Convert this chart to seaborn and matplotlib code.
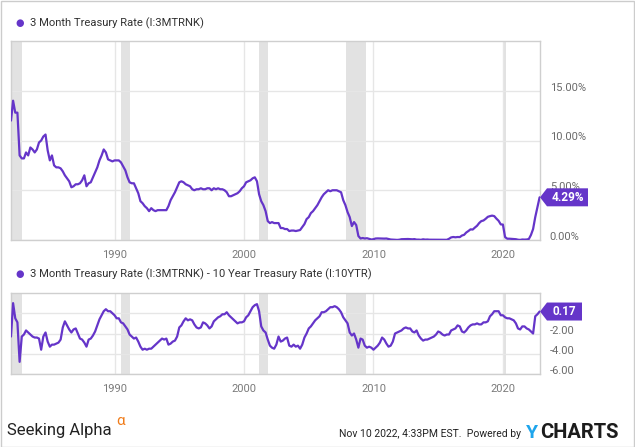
"""3 Month Treasury Rate and 3M - 10Y spread, YCharts style."""

import matplotlib
matplotlib.use("Agg")
import matplotlib.pyplot as plt
import matplotlib.transforms as mtransforms
from matplotlib.patches import Polygon, Rectangle
import pandas as pd
import seaborn as sns

W, H = 635, 447
PURPLE = "#6535c9"
GRID = "#e6e6e6"
BAND = "#e2e2e2"

# bimonthly readings, Jan 1982 .. Nov 2022
rate_3m = [
    12.0, 14.0, 12.8, 12.8, 8.5, 8.2,
    8.2, 8.8, 8.5, 9.3, 9.1, 8.8,
    9.1, 9.8, 10.0, 10.4, 10.6, 9.0,
    8.0, 8.5, 7.5, 7.3, 7.3, 7.2,
    6.9, 6.5, 6.2, 5.9, 5.3, 5.4,
    5.6, 5.6, 5.7, 6.0, 6.5, 5.4,
    5.7, 5.8, 6.3, 6.8, 7.3, 8.0,
    8.5, 9.1, 8.8, 8.1, 8.0, 7.9,
    8.0, 8.0, 8.0, 7.8, 7.4, 7.0,
    6.3, 5.8, 5.7, 5.7, 5.2, 4.7,
    3.9, 3.7, 3.4, 3.2, 2.9, 3.2,
    3.0, 2.9, 3.0, 3.0, 3.0, 3.0,
    3.0, 3.4, 4.0, 4.4, 4.8, 5.3,
    5.8, 5.9, 5.8, 5.6, 5.5, 5.4,
    5.1, 5.0, 5.1, 5.1, 5.2, 5.1,
    5.1, 5.2, 5.2, 5.0, 5.2, 5.1,
    5.2, 5.1, 5.1, 5.0, 4.8, 4.4,
    4.4, 4.5, 4.6, 4.7, 4.9, 5.2,
    5.4, 5.8, 5.9, 6.0, 6.2, 6.3,
    5.9, 4.6, 3.9, 3.5, 2.9, 1.9,
    1.7, 1.8, 1.7, 1.7, 1.7, 1.2,
    1.2, 1.1, 1.1, 0.9, 0.95, 0.95,
    0.9, 0.95, 1.0, 1.3, 1.6, 2.1,
    2.3, 2.7, 2.9, 3.2, 3.5, 3.9,
    4.3, 4.6, 4.8, 5.0, 4.9, 5.0,
    5.0, 5.0, 4.9, 4.8, 4.0, 3.5,
    2.8, 2.3, 1.4, 1.8, 1.5, 0.4,
    0.15, 0.2, 0.15, 0.18, 0.12, 0.05,
    0.08, 0.15, 0.16, 0.15, 0.15, 0.14,
    0.15, 0.1, 0.05, 0.04, 0.02, 0.01,
    0.03, 0.08, 0.09, 0.1, 0.1, 0.09,
    0.07, 0.09, 0.04, 0.04, 0.02, 0.07,
    0.04, 0.05, 0.03, 0.03, 0.02, 0.02,
    0.03, 0.03, 0.02, 0.03, 0.02, 0.12,
    0.26, 0.3, 0.27, 0.3, 0.29, 0.45,
    0.52, 0.75, 0.9, 1.07, 1.05, 1.25,
    1.43, 1.7, 1.9, 1.96, 2.13, 2.33,
    2.4, 2.45, 2.4, 2.15, 1.93, 1.57,
    1.55, 0.3, 0.13, 0.13, 0.11, 0.09,
    0.08, 0.03, 0.01, 0.05, 0.04, 0.05,
    0.1, 0.5, 1.1, 2.3, 3.3, 4.29,
]

spread_3m_10y = [
    -2.3, 1.0, -0.5, -0.9, -4.8, -2.3,
    -2.1, -1.7, -1.9, -2.1, -2.3, -2.4,
    -2.4, -2.5, -3.6, -2.3, -1.9, -2.8,
    -3.3, -3.1, -3.1, -3.0, -2.9, -2.6,
    -1.4, -0.8, -1.2, -1.6, -1.9, -1.6,
    -1.5, -2.0, -2.5, -2.6, -2.9, -3.3,
    -2.6, -2.5, -2.2, -1.8, -1.2, -0.6,
    -0.2, 0.2, 0.4, 0.2, 0.2, 0.0,
    -0.2, -0.5, -0.5, -0.9, -1.0, -1.3,
    -1.6, -2.1, -2.3, -2.5, -2.4, -2.8,
    -3.3, -3.6, -3.5, -3.6, -3.5, -3.5,
    -3.3, -3.1, -2.9, -2.7, -2.5, -2.6,
    -2.5, -3.1, -3.0, -2.8, -2.7, -2.3,
    -1.4, -1.2, -0.8, -0.5, -0.7, -0.6,
    -0.7, -1.1, -1.4, -1.5, -1.4, -0.9,
    -1.0, -1.2, -1.5, -1.3, -0.8, -0.6,
    -0.4, -0.3, -0.1, -0.1, 0.1, -0.2,
    -0.4, -0.6, -0.8, -1.0, -0.9, -0.9,
    -0.8, -0.4, -0.2, 0.2, 0.6, 0.8,
    0.9, 0.2, -1.3, -1.7, -1.9, -2.6,
    -3.2, -3.4, -3.5, -3.1, -2.3, -2.8,
    -2.7, -2.5, -2.4, -3.2, -3.3, -3.1,
    -3.3, -3.2, -3.5, -3.1, -2.4, -2.0,
    -1.5, -1.3, -1.0, -0.7, -0.5, -0.3,
    0.1, 0.1, 0.2, 0.4, 0.6, 0.6,
    0.7, 0.6, 0.4, 0.1, -0.4, -0.7,
    -1.0, -1.9, -2.2, -2.0, -2.6, -3.4,
    -2.5, -2.6, -3.2, -3.4, -3.3, -3.4,
    -3.6, -3.4, -3.2, -2.9, -2.4, -2.6,
    -3.0, -3.3, -3.2, -2.8, -2.0, -1.9,
    -1.8, -1.7, -1.5, -1.4, -1.5, -1.5,
    -1.8, -1.9, -1.7, -2.2, -2.5, -2.7,
    -2.6, -2.6, -2.5, -2.4, -2.3, -2.1,
    -1.8, -1.9, -2.1, -2.2, -2.1, -2.1,
    -1.7, -1.6, -1.5, -1.2, -1.3, -1.8,
    -1.9, -1.7, -1.4, -1.2, -1.1, -1.1,
    -1.0, -1.1, -1.1, -0.9, -0.9, -0.8,
    -0.3, -0.1, 0.2, 0.2, 0.2, -0.2,
    -0.2, -0.4, -0.5, -0.5, -0.6, -0.7,
    -1.0, -1.5, -1.6, -1.3, -1.3, -1.5,
    -1.6, -1.8, -2.0, -0.3, -0.1, 0.17,
]

recessions = [
    ("1981-07-01", "1982-11-01"),
    ("1990-07-01", "1991-03-01"),
    ("2001-03-01", "2001-11-01"),
    ("2007-12-01", "2009-06-01"),
    ("2020-02-01", "2020-04-01"),
]
decade_years = ["1990", "2000", "2010", "2020"]

top_title = "3 Month Treasury Rate (I:3MTRNK)"
bottom_title = "3 Month Treasury Rate (I:3MTRNK) - 10 Year Treasury Rate (I:10YTR)"

df = pd.DataFrame({
    "date": pd.date_range("1982-01-01", periods=len(rate_3m), freq="2MS"),
    "rate": rate_3m,
    "spread": spread_3m_10y,
})

sns.set_style("white")
plt.rcParams["font.family"] = ["Roboto", "DejaVu Sans"]

fig = plt.figure(figsize=(W / 100, H / 100), dpi=100)


def frac(x0, y0, x1, y1):
    return [x0 / W, 1 - y1 / H, (x1 - x0) / W, (y1 - y0) / H]


ax1 = fig.add_axes(frac(11, 41, 540, 240))
ax2 = fig.add_axes(frac(11, 293, 540, 374))

xmin, xmax = pd.Timestamp("1982-01-01"), pd.Timestamp("2022-11-12")


def style_axis(ax, ticks, labels, ylim):
    for a, b in recessions:
        ax.axvspan(pd.Timestamp(a), pd.Timestamp(b), color=BAND, lw=0, zorder=0)
    for yr in decade_years:
        ax.axvline(pd.Timestamp(f"{yr}-01-01"), color=GRID, lw=1, zorder=0.5)
    for t in ticks:
        ax.axhline(t, color=GRID, lw=1, zorder=0.5)
    ax.set_xlim(xmin, xmax)
    ax.set_ylim(*ylim)
    ax.set_xticks([pd.Timestamp(f"{yr}-01-01") for yr in decade_years], decade_years)
    ax.yaxis.tick_right()
    ax.set_yticks(ticks, labels)
    ax.tick_params(axis="x", length=0, pad=7, labelsize=8, labelcolor="#7a7a7a")
    ax.tick_params(axis="y", length=0, pad=7, labelsize=8, labelcolor="#6a6a6a")
    for lbl in ax.get_yticklabels():
        lbl.set_verticalalignment("baseline")
    for s in ax.spines.values():
        s.set_color("#cfcfcf")
        s.set_linewidth(1)
    ax.set_xlabel("")
    ax.set_ylabel("")


def badge(ax, value, text, width):
    trans = mtransforms.Affine2D() + mtransforms.ScaledTranslation(
        1.0, value, mtransforms.blended_transform_factory(ax.transAxes, ax.transData))
    pts = [(0, 0), (7, 9), (7 + width, 9), (7 + width, -9), (7, -9)]
    ax.add_patch(Polygon(pts, closed=True, fc=PURPLE, ec="none",
                         transform=trans, clip_on=False, zorder=10))
    ax.text(7 + width / 2, 0, text, transform=trans, color="white", fontsize=8.5,
            fontweight="bold", ha="center", va="center", zorder=11, clip_on=False)


sns.lineplot(data=df, x="date", y="rate", ax=ax1, color=PURPLE, lw=1.6, zorder=3)
style_axis(ax1, [0, 5, 10, 15], ["0.00%", "5.00%", "10.00%", "15.00%"], (0, 20))
badge(ax1, rate_3m[-1], f"{rate_3m[-1]:.2f}%", 41)

sns.lineplot(data=df, x="date", y="spread", ax=ax2, color=PURPLE, lw=1.6, zorder=3)
style_axis(ax2, [0, -2, -4, -6], ["", "-2.00", "-4.00", "-6.00"], (-6, 2))
badge(ax2, spread_3m_10y[-1], f"{spread_3m_10y[-1]:.2f}", 35)

# titles with legend dots
for y, title in [(23, top_title), (274, bottom_title)]:
    fig.text(20 / W, 1 - y / H, "\u25CF", color=PURPLE, fontsize=7, ha="center", va="center",
             family=["DejaVu Sans"])
    fig.text(30 / W, 1 - y / H, title, color="#333333", fontsize=8.1, va="center")

# footer
fig.text(7 / W, 1 - 431 / H, "Seeking Alpha", color="#222222", fontsize=12, va="center")
fig.text(116 / W, 1 - 421 / H, "\u03B1", color="#f07c1a", fontsize=11, va="center")
fig.text(521 / W, 1 - 434 / H, "Nov 10 2022, 4:33PM EST.  Powered by", color="#222222",
         fontsize=7.5, ha="right", va="center")
fig.text(526 / W, 1 - 433 / H, "Y", color="#1ea5ec", fontsize=14, fontweight="bold",
         va="center")
fig.text(540 / W, 1 - 433 / H, "CHARTS", color="#1c1c1c", fontsize=14.5, fontweight="bold",
         va="center")

fig.patches.append(Rectangle((0.5 / W, 0.5 / H), 1 - 1.5 / W, 1 - 1.5 / H,
                             transform=fig.transFigure, fill=False, ec="#cccccc", lw=1))

fig.savefig("out.png", dpi=100)
